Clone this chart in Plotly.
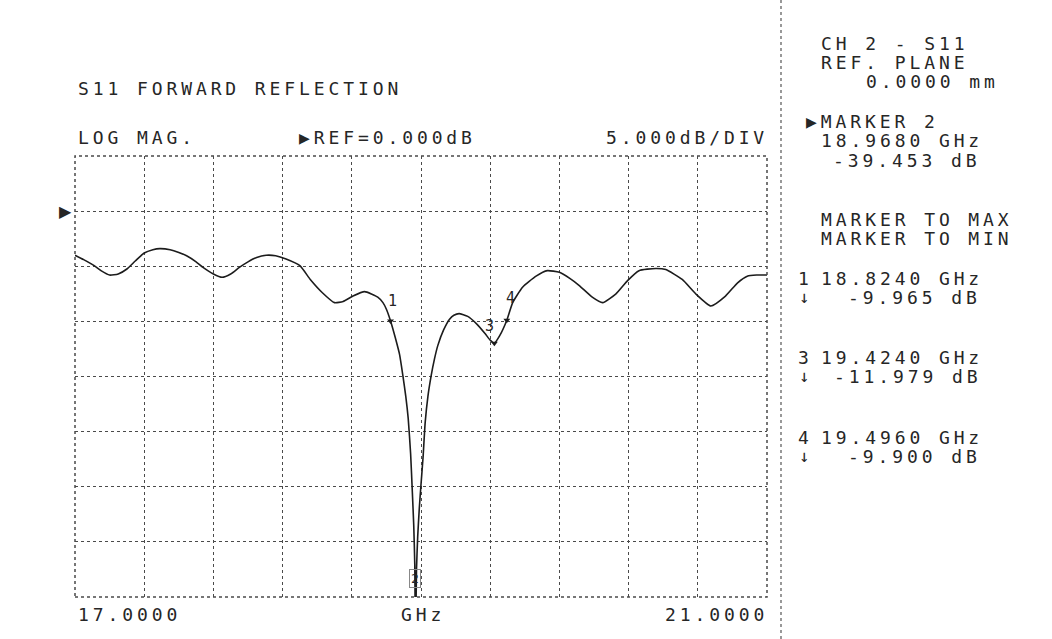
import plotly.graph_objects as go

# S11 trace of the device, frequency in GHz and magnitude in dB
freq_ghz = [
    17.00, 17.05, 17.106, 17.15, 17.20, 17.25, 17.30, 17.35, 17.40, 17.45,
    17.49, 17.55, 17.60, 17.645, 17.70, 17.74, 17.80, 17.85, 17.90, 17.95,
    18.00, 18.05, 18.105, 18.16, 18.22, 18.30, 18.36, 18.43, 18.50, 18.55,
    18.607, 18.674, 18.75, 18.78, 18.80, 18.824, 18.85, 18.876, 18.895, 18.912,
    18.926, 18.940, 18.950, 18.958, 18.964, 18.968, 18.974, 18.981, 18.990, 19.000,
    19.012, 19.024, 19.040, 19.059, 19.078, 19.097, 19.13, 19.165, 19.19, 19.22,
    19.27, 19.32, 19.37, 19.40, 19.424, 19.455, 19.496, 19.53, 19.587, 19.665,
    19.73, 19.80, 19.86, 19.915, 19.99, 20.05, 20.127, 20.194, 20.26, 20.357,
    20.415, 20.51, 20.588, 20.675, 20.76, 20.83, 20.886, 20.94, 21.00,
]
s11_db = [
    -4.0, -4.4, -4.9, -5.4, -5.8, -5.7, -5.25, -4.5, -3.8, -3.5,
    -3.4, -3.5, -3.75, -4.05, -4.6, -5.1, -5.7, -6.0, -5.7, -5.1,
    -4.6, -4.2, -4.0, -4.05, -4.35, -4.95, -6.2, -7.4, -8.3, -8.2,
    -7.7, -7.3, -7.8, -8.3, -8.9, -9.965, -11.4, -13.0, -14.9, -16.8,
    -18.8, -22.0, -25.5, -28.5, -32.0, -39.453, -32.5, -29.5, -27.0, -24.8,
    -22.3, -19.2, -16.8, -14.9, -13.4, -12.2, -10.8, -9.8, -9.45, -9.3,
    -9.55, -10.2, -11.1, -11.7, -11.979, -11.3, -9.900, -8.3, -6.9, -5.9,
    -5.4, -5.55, -6.1, -6.75, -7.8, -8.3, -7.5, -6.3, -5.4, -5.2,
    -5.3, -6.2, -7.5, -8.6, -7.7, -6.5, -5.9, -5.8, -5.8,
]

# Marker readouts
marker_ids = ["1", "2", "3", "4"]
marker_freq = [18.824, 18.968, 19.424, 19.496]
marker_db = [-9.965, -39.453, -11.979, -9.900]

# Display settings
x_start, x_stop = 17.0, 21.0
ref_db = 0.0
scale_db = 5.0
x_divs = 10
y_divs = 8
ref_div = 7  # reference line position (divisions above bottom)
y_min = ref_db - ref_div * scale_db
y_max = y_min + y_divs * scale_db

INK = "#262626"
GRID = "#4a4a4a"
FONT = "DejaVu Sans Mono"

# plot area in pixels
W, H = 1052, 639
L, R, T, B = 75, 767, 156, 597


def px(x):
    return (x - L) / (R - L)


def py(y):
    return (B - y) / (B - T)


def spaced(s, sp=3.9):
    return f"<span style='letter-spacing:{sp}px'>{s}</span>"


fig = go.Figure()
fig.add_trace(go.Scatter(
    x=freq_ghz, y=s11_db, mode="lines",
    line=dict(color="#1c1c1c", width=1.6, shape="spline", smoothing=0.5),
    hoverinfo="skip", showlegend=False,
))
fig.add_trace(go.Scatter(
    x=[f for f, i in zip(marker_freq, marker_ids) if i != "2"],
    y=[d for d, i in zip(marker_db, marker_ids) if i != "2"],
    mode="markers",
    marker=dict(symbol="triangle-down", size=6, color="#1c1c1c"),
    hoverinfo="skip", showlegend=False,
))

annotations = []


def text(x, y, s, anchor="left", size=18, sp=3.9):
    annotations.append(dict(
        xref="paper", yref="paper", x=px(x), y=py(y), text=spaced(s, sp),
        showarrow=False, xanchor=anchor, yanchor="middle",
        font=dict(family=FONT, size=size, color=INK),
    ))


# header lines
text(76, 89, "S11 FORWARD REFLECTION")
text(76, 138, "LOG MAG.")
text(297, 138, f"▶REF={ref_db:.3f}dB")
text(770, 138, f"{scale_db:.3f}dB/DIV", anchor="right")

# frequency axis labels
text(76, 614, f"{x_start:.4f}")
text((L + R) / 2 + 2, 614, "GHz", anchor="center")
text(770, 614, f"{x_stop:.4f}", anchor="right")

# right-hand readout panel
text(819, 43, "CH 2 - S11")
text(819, 62, "REF. PLANE")
text(864, 81, "0.0000 mm")
text(804, 121, "▶MARKER 2")
text(819, 140, f"{marker_freq[1]:.4f} GHz")
text(831, 160, f"{marker_db[1]:.3f} dB")
text(819, 219, "MARKER TO MAX")
text(819, 238, "MARKER TO MIN")
rows = [(0, 278), (2, 357), (3, 437)]
for k, yy in rows:
    text(796, yy, marker_ids[k])
    text(819, yy, f"{marker_freq[k]:.4f} GHz")
    text(797, yy + 19, "↓", size=17, sp=0)
    val = f"{marker_db[k]:.3f} dB"
    text(983, yy + 19, val, anchor="right")

# reference position arrow
annotations.append(dict(
    xref="paper", yref="y", x=0, y=ref_db, text="▶", showarrow=False,
    xanchor="right", yanchor="middle", xshift=-1,
    font=dict(family="DejaVu Sans", size=16, color=INK),
))

# marker labels on the trace
offsets = {"1": (2, 20), "3": (-5, 17), "4": (4, 22)}
for i, f, d in zip(marker_ids, marker_freq, marker_db):
    if i in offsets:
        dx, dy = offsets[i]
        annotations.append(dict(
            xref="x", yref="y", x=f, y=d, text=i, showarrow=False,
            xanchor="center", yanchor="middle", xshift=dx, yshift=dy,
            font=dict(family=FONT, size=15, color=INK),
        ))
    else:
        annotations.append(dict(
            xref="x", yref="y", x=f, y=max(d, y_min), text=i, showarrow=False,
            xanchor="center", yanchor="middle", yshift=19,
            bordercolor="#888", borderwidth=1, borderpad=1,
            font=dict(family=FONT, size=13, color=INK),
        ))

shapes = [
    # graticule border
    dict(type="rect", xref="paper", yref="paper", x0=0, x1=1, y0=0, y1=1,
         line=dict(color=GRID, width=1.5, dash="dot"), layer="above"),
    # panel separator
    dict(type="line", xref="paper", yref="paper", x0=px(781), x1=px(781),
         y0=py(0), y1=py(H), line=dict(color="#555", width=1.2, dash="dot")),
]

fig.update_layout(
    width=W, height=H,
    margin=dict(l=L, r=W - R, t=T, b=H - B, pad=0),
    paper_bgcolor="white", plot_bgcolor="white",
    xaxis=dict(range=[x_start, x_stop], tick0=x_start,
               dtick=(x_stop - x_start) / x_divs, showticklabels=False,
               ticks="", showgrid=True, griddash="dot", gridcolor=GRID,
               gridwidth=1.3, zeroline=False, showline=False, fixedrange=True),
    yaxis=dict(range=[y_min, y_max], tick0=y_min, dtick=scale_db,
               showticklabels=False, ticks="", showgrid=True, griddash="dot",
               gridcolor=GRID, gridwidth=1.3, zeroline=False, showline=False,
               fixedrange=True),
    annotations=annotations,
    shapes=shapes,
    showlegend=False,
)

fig.write_html("out.html")
